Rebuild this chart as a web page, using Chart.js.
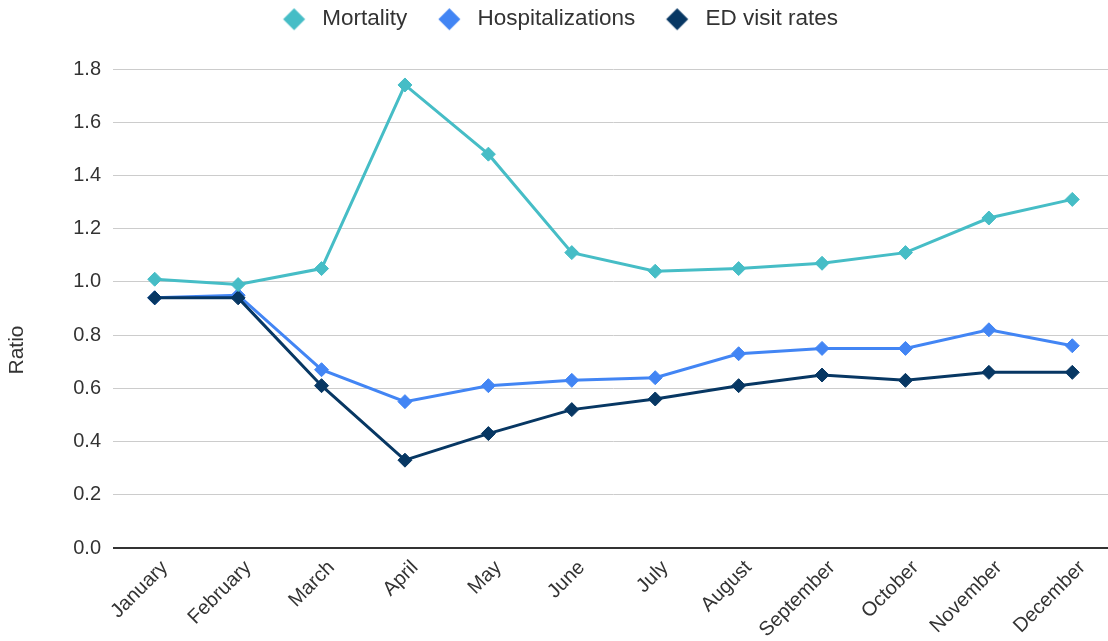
<!DOCTYPE html>
<html>
<head>
<meta charset="utf-8">
<script src="https://cdn.jsdelivr.net/npm/chart.js@4.4.1/dist/chart.umd.min.js"></script>
<style>
  html, body { margin: 0; padding: 0; background: #fff; overflow: hidden; }
  #wrap { position: relative; width: 1122px; height: 641px; }
</style>
</head>
<body>
<div id="wrap"><canvas id="c"></canvas></div>
<script>
const categories = ['January', 'February', 'March', 'April', 'May', 'June', 'July', 'August', 'September', 'October', 'November', 'December'];
const mortality = [1.01, 0.99, 1.05, 1.74, 1.48, 1.11, 1.04, 1.05, 1.07, 1.11, 1.24, 1.31];
const hospitalizations = [0.94, 0.95, 0.67, 0.55, 0.61, 0.63, 0.64, 0.73, 0.75, 0.75, 0.82, 0.76];
const edVisitRates = [0.94, 0.94, 0.61, 0.33, 0.43, 0.52, 0.56, 0.61, 0.65, 0.63, 0.66, 0.66];
const seriesNames = ['Mortality', 'Hospitalizations', 'ED visit rates'];
const seriesColors = ['#46BDC6', '#4285F4', '#073763'];
const yAxisTitle = 'Ratio';
const yMin = 0, yMax = 1.8, yStep = 0.2;

const FONT = '"Liberation Sans", Arial, sans-serif';
const TEXT = '#333333';

function legendDiamond(color) {
  const c = document.createElement('canvas');
  c.width = 64; c.height = 24;
  const g = c.getContext('2d');
  const cx = 32 + 8.5, cy = 12, r = 11;
  g.fillStyle = color;
  g.beginPath();
  g.moveTo(cx - r, cy); g.lineTo(cx, cy - r); g.lineTo(cx + r, cy); g.lineTo(cx, cy + r);
  g.closePath(); g.fill();
  return c;
}

const legendFit = {
  id: 'legendFit',
  beforeInit(chart) {
    const orig = chart.legend.fit;
    chart.legend.fit = function () {
      orig.bind(chart.legend)();
      this.height = 69;
      if (this.lineWidths && this.lineWidths.length) this.lineWidths[0] += 24;
    };
  }
};

const yTitlePlugin = {
  id: 'yTitlePlugin',
  afterDraw(chart) {
    const ctx = chart.ctx;
    const cy = (chart.chartArea.top + chart.height) / 2 - 5;
    ctx.save();
    ctx.translate(17.5, cy);
    ctx.rotate(-Math.PI / 2);
    ctx.font = '21px ' + FONT;
    ctx.fillStyle = TEXT;
    ctx.textAlign = 'center';
    ctx.textBaseline = 'middle';
    ctx.fillText(yAxisTitle, 0, 0);
    ctx.restore();
  }
};

const seriesData = [mortality, hospitalizations, edVisitRates];
const drawOrder = [0, 2, 1];

new Chart(document.getElementById('c'), {
  type: 'line',
  data: {
    labels: categories,
    datasets: seriesNames.map((name, i) => ({
      label: name,
      data: seriesData[i],
      borderColor: seriesColors[i],
      backgroundColor: seriesColors[i],
      borderWidth: 3,
      pointStyle: 'rectRot',
      pointRadius: 7,
      pointHoverRadius: 7,
      pointBorderWidth: 1,
      pointBorderColor: seriesColors[i],
      pointBackgroundColor: seriesColors[i],
      tension: 0,
      fill: false,
      order: drawOrder[i]
    }))
  },
  options: {
    responsive: true,
    maintainAspectRatio: false,
    animation: false,
    layout: { padding: 0 },
    plugins: {
      tooltip: { enabled: false },
      legend: {
        position: 'top',
        align: 'center',
        labels: {
          usePointStyle: true,
          pointStyleWidth: 51,
          boxHeight: 22,
          padding: 8,
          color: TEXT,
          font: { family: FONT, size: 22.5 },
          sort: (a, b) => a.datasetIndex - b.datasetIndex,
          generateLabels(chart) {
            const items = Chart.defaults.plugins.legend.labels.generateLabels(chart);
            items.forEach(it => { it.pointStyle = legendDiamond(seriesColors[it.datasetIndex]); });
            return items;
          }
        }
      }
    },
    scales: {
      x: {
        type: 'category',
        offset: true,
        grid: { display: false, drawTicks: false },
        border: { display: false },
        ticks: {
          autoSkip: false,
          minRotation: 45,
          maxRotation: 45,
          padding: 8,
          labelOffset: 10,
          color: TEXT,
          font: { family: FONT, size: 20 }
        },
        afterFit(scale) { scale.height = 93; }
      },
      y: {
        min: yMin,
        max: yMax,
        grid: {
          drawTicks: false,
          color: ctx => (ctx.tick && Math.abs(ctx.tick.value) < 1e-9) ? '#333333' : '#cccccc',
          lineWidth: ctx => (ctx.tick && Math.abs(ctx.tick.value) < 1e-9) ? 2 : 1
        },
        border: { display: false },
        ticks: {
          stepSize: yStep,
          padding: 12,
          color: TEXT,
          font: { family: FONT, size: 20 },
          callback: v => Number(v).toFixed(1)
        },
        title: { display: false },
        afterFit(scale) { scale.width = 113; }
      }
    }
  },
  plugins: [legendFit, yTitlePlugin]
});
</script>
</body>
</html>
